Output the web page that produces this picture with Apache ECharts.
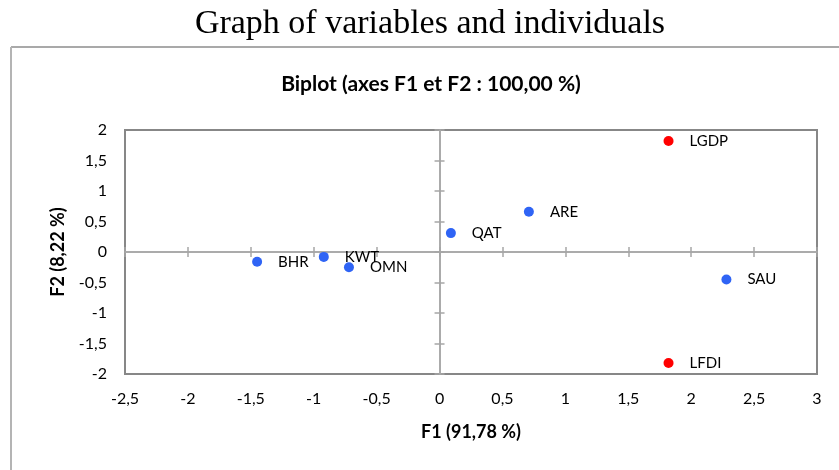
<!DOCTYPE html>
<html>
<head>
<meta charset="utf-8">
<script src="https://cdn.jsdelivr.net/npm/echarts@6/dist/echarts.min.js"></script>
<style>
  html, body { margin: 0; padding: 0; background: #fff; }
  #chart { width: 839px; height: 470px; }
</style>
</head>
<body>
<div id="chart"></div>
<script>
// individuals (countries)
const countries = ["BHR", "KWT", "OMN", "QAT", "ARE", "SAU"];
const countryF1 = [-1.45, -0.92, -0.72, 0.09, 0.71, 2.28];
const countryF2 = [-0.16, -0.08, -0.25, 0.31, 0.66, -0.45];

// variables
const variables = ["LGDP", "LFDI"];
const variableF1 = [1.82, 1.82];
const variableF2 = [1.82, -1.82];

// axis ticks
const xTicks = [-2.5, -2, -1.5, -1, -0.5, 0, 0.5, 1, 1.5, 2, 2.5, 3];
const yTicks = [-2, -1.5, -1, -0.5, 0, 0.5, 1, 1.5, 2];

const font = "Lato, Calibri, sans-serif";
const fmt = (v) => String(v).replace(".", ",");

const chart = echarts.init(document.getElementById("chart"));

const zeroLine = { color: "#a6a6a6", width: 1.5 };

function labelAxis(ticks, name, gap, margin) {
    return {
        type: "value",
        min: ticks[0],
        max: ticks[ticks.length - 1],
        interval: 0.5,
        axisLine: { show: false },
        axisTick: { show: false },
        splitLine: { show: false },
        axisLabel: { formatter: fmt, margin: margin, fontSize: 16, color: "#000", fontFamily: font },
        name: name,
        nameLocation: "middle",
        nameGap: gap,
        nameMoveOverlap: false,
        nameTextStyle: { fontWeight: "bold", fontSize: 18, color: "#000", fontFamily: font },
    };
}

function zeroAxis(ticks, inside) {
    return {
        type: "value",
        min: ticks[0],
        max: ticks[ticks.length - 1],
        interval: 0.5,
        axisLine: { show: true, onZero: true, onZeroAxisIndex: 0, lineStyle: zeroLine },
        axisTick: { show: true, inside: inside, length: 5, lineStyle: zeroLine },
        axisLabel: { show: false },
        splitLine: { show: false },
    };
}

const pointLabel = { show: true, position: "right", distance: 16, formatter: "{b}", fontSize: 15, color: "#000", fontFamily: font };

const option = {
    animation: false,
    graphic: [
        {
            type: "line",
            shape: { x1: 11, y1: 47, x2: 839, y2: 47 },
            style: { stroke: "#8c8c8c", lineWidth: 1.5 },
        },
        {
            type: "line",
            shape: { x1: 11, y1: 47, x2: 11, y2: 470 },
            style: { stroke: "#b4b4b4", lineWidth: 2 },
        },
        {
            type: "text",
            x: 430,
            y: 24,
            style: {
                text: "Graph of variables and individuals",
                fontFamily: "'Liberation Serif', 'Times New Roman', serif",
                fontSize: 34,
                fill: "#000",
                textAlign: "center",
                textVerticalAlign: "middle",
            },
        },
        {
            type: "text",
            x: 431,
            y: 84,
            style: {
                text: "Biplot (axes F1 et F2 : 100,00 %)",
                fontFamily: font,
                fontSize: 21,
                fontWeight: "bold",
                fill: "#000",
                textAlign: "center",
                textVerticalAlign: "middle",
            },
        },
    ],
    grid: {
        left: 125,
        right: 22,
        top: 130,
        bottom: 96,
        show: true,
        borderColor: "#878787",
        borderWidth: 2,
        outerBoundsMode: "none",
    },
    xAxis: [
        Object.assign(labelAxis(xTicks, "F1 (91,78 %)", 49, 17), { position: "bottom" }),
        Object.assign(zeroAxis(xTicks, false), { position: "bottom" }),
        Object.assign(zeroAxis(xTicks, true), { position: "bottom" }),
    ],
    yAxis: [
        Object.assign(labelAxis(yTicks, "F2 (8,22 %)", 58, 18), { position: "left" }),
        Object.assign(zeroAxis(yTicks, false), { position: "left" }),
        Object.assign(zeroAxis(yTicks, true), { position: "left" }),
    ],
    series: [
        {
            name: "Individuals",
            type: "scatter",
            symbolSize: 10,
            itemStyle: { color: "#2f64f5", opacity: 1 },
            data: countries.map((c, i) => ({ name: c, value: [countryF1[i], countryF2[i]] })),
            label: pointLabel,
            labelLayout: { hideOverlap: false },
        },
        {
            name: "Variables",
            type: "scatter",
            symbolSize: 10,
            itemStyle: { color: "#ff0000", opacity: 1 },
            data: variables.map((v, i) => ({ name: v, value: [variableF1[i], variableF2[i]] })),
            label: pointLabel,
        },
    ],
};

chart.setOption(option);
</script>
</body>
</html>
